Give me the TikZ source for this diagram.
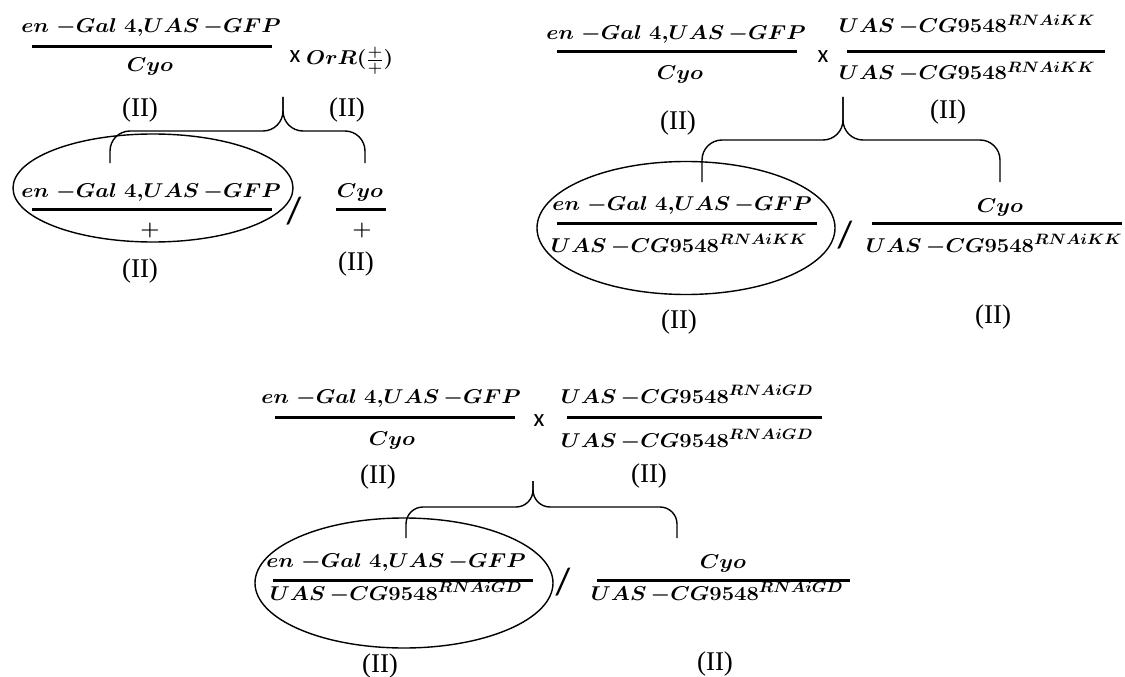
\documentclass[tikz,border=0pt]{standalone}
\usepackage{fix-cm}
\usepackage[no-math]{fontspec}
\usepackage{graphicx}
\usetikzlibrary{shapes.geometric,calc}
\newfontfamily\chromfont{Liberation Serif}
\newfontfamily\crossfont{Carlito}
\DeclareMathSizes{20}{20}{15}{11}

% genotype text, set a little wider as in the original
\newcommand{\gn}[1]{\scalebox{1.1}[1]{\boldmath$#1$}}
\newcommand{\enGal}{\gn{en\;{-}Gal\;4{,}UAS\,{-}GFP}}
\newcommand{\rnai}[1]{\gn{UAS\,{-}CG9548^{#1}}}

\begin{document}
\begin{tikzpicture}[x=1pt, y=-1pt,
  gene/.style={font=\fontsize{20}{24}\selectfont, inner sep=0pt, anchor=base},
  chrom/.style={font=\chromfont\fontsize{27}{30}\selectfont, inner sep=0pt},
  cross/.style={font=\crossfont\fontsize{25}{28}\selectfont, inner sep=0pt},
  slash/.style={font=\crossfont\fontsize{38}{40}\selectfont, inner sep=0pt},
  bar/.style={line width=3pt},
  brace/.style={line width=1.4pt, rounded corners=20pt},
  ring/.style={draw, ellipse, line width=1.4pt, inner sep=0pt}]
\useasboundingbox (0,0) rectangle (1125,677);

% ===== CROSS 1: en-Gal4 x OrR =====
\node[gene] (c1momnum) at (151,33) {\enGal};
\draw[bar] (32,47) -- (272,47);
\node[gene] (c1momden) at (150,71) {\gn{Cyo}};
\node[cross] (c1x) at (295,57) {x};
\node[gene, anchor=base west] (c1dad) at (306,65) {\gn{OrR(\frac{+}{+})}};
\node[chrom] (c1momchr) at (140,110) {(II)};
\node[chrom] (c1dadchr) at (347,110) {(II)};

% offspring
\node[ring, minimum width=280pt, minimum height=108pt] (c1ring) at (153,188) {};
\node[gene] (c1keepnum) at (151,197) {\enGal};
\draw[bar] (32,209) -- (272,209);
\node[gene] (c1keepden) at (150,235) {\gn{+}};
\node[slash] (c1slash) at (294,211) {/};
\node[gene] (c1balnum) at (360,197) {\gn{Cyo}};
\draw[bar] (336,209) -- (386,209);
\node[gene] (c1balden) at (362,235) {\gn{+}};
\node[chrom] (c1keepchr) at (140,271) {(II)};
\node[chrom] (c1balchr) at (356,264) {(II)};

% brace
\coordinate (c1tip) at (283,97);
\coordinate (c1bar) at (283,131);
\coordinate (c1endL) at (110,163);
\coordinate (c1endR) at (365,163);
\draw[brace] (c1tip) |- (c1endL |- c1bar) -- (c1endL);
\draw[brace] (c1tip) |- (c1endR |- c1bar) -- (c1endR);

% ===== CROSS 2: en-Gal4 x RNAi KK =====
\node[gene] (c2momnum) at (676,40) {\enGal};
\draw[bar] (557,52) -- (797,52);
\node[gene] (c2momden) at (680,80) {\gn{Cyo}};
\node[cross] (c2x) at (823,57) {x};
\node[gene] (c2dadnum) at (967,33) {\rnai{RNAiKK}};
\draw[bar] (847,52) -- (1105,52);
\node[gene] (c2dadden) at (967,80) {\rnai{RNAiKK}};
\node[chrom] (c2momchr) at (678,123) {(II)};
\node[chrom] (c2dadchr) at (948,112) {(II)};

% offspring
\node[ring, minimum width=298pt, minimum height=133pt] (c2ring) at (686,228) {};
\node[gene] (c2keepnum) at (682,210) {\enGal};
\draw[bar] (557,223) -- (817,223);
\node[gene] (c2keepden) at (679,252) {\rnai{RNAiKK}};
\node[slash] (c2slash) at (845,235) {/};
\node[gene] (c2balnum) at (1000,212) {\gn{Cyo}};
\draw[bar] (872,223) -- (1122,223);
\node[gene] (c2balden) at (994,252) {\rnai{RNAiKK}};
\node[chrom] (c2keepchr) at (679,322) {(II)};
\node[chrom] (c2balchr) at (993,317) {(II)};

% brace
\coordinate (c2tip) at (843,97);
\coordinate (c2bar) at (843,140);
\coordinate (c2endL) at (702,182);
\coordinate (c2endR) at (1000,182);
\draw[brace] (c2tip) |- (c2endL |- c2bar) -- (c2endL);
\draw[brace] (c2tip) |- (c2endR |- c2bar) -- (c2endR);

% ===== CROSS 3: en-Gal4 x RNAi GD =====
\node[gene] (c3momnum) at (391,403) {\enGal};
\draw[bar] (275,417) -- (515,417);
\node[gene] (c3momden) at (392,445) {\gn{Cyo}};
\node[cross] (c3x) at (539,421) {x};
\node[gene] (c3dadnum) at (687,403) {\rnai{RNAiGD}};
\draw[bar] (567,417) -- (822,417);
\node[gene] (c3dadden) at (687,447) {\rnai{RNAiGD}};
\node[chrom] (c3momchr) at (378,477) {(II)};
\node[chrom] (c3dadchr) at (649,476) {(II)};

% offspring
\node[ring, minimum width=298pt, minimum height=130pt] (c3ring) at (404,583) {};
\node[gene] (c3keepnum) at (396,567) {\enGal};
\draw[bar] (273,580) -- (533,580);
\node[gene] (c3keepden) at (396,600) {\rnai{RNAiGD}};
\node[slash] (c3slash) at (563,582) {/};
\node[gene] (c3balnum) at (723,568) {\gn{Cyo}};
\draw[bar] (597,580) -- (850,580);
\node[gene] (c3balden) at (717,600) {\rnai{RNAiGD}};
\node[chrom] (c3keepchr) at (380,666) {(II)};
\node[chrom] (c3balchr) at (715,664) {(II)};

% brace
\coordinate (c3tip) at (533,481);
\coordinate (c3bar) at (533,507);
\coordinate (c3endL) at (406,538);
\coordinate (c3endR) at (677,538);
\draw[brace, rounded corners=17pt] (c3tip) |- (c3endL |- c3bar) -- (c3endL);
\draw[brace, rounded corners=17pt] (c3tip) |- (c3endR |- c3bar) -- (c3endR);

\end{tikzpicture}
\end{document}
